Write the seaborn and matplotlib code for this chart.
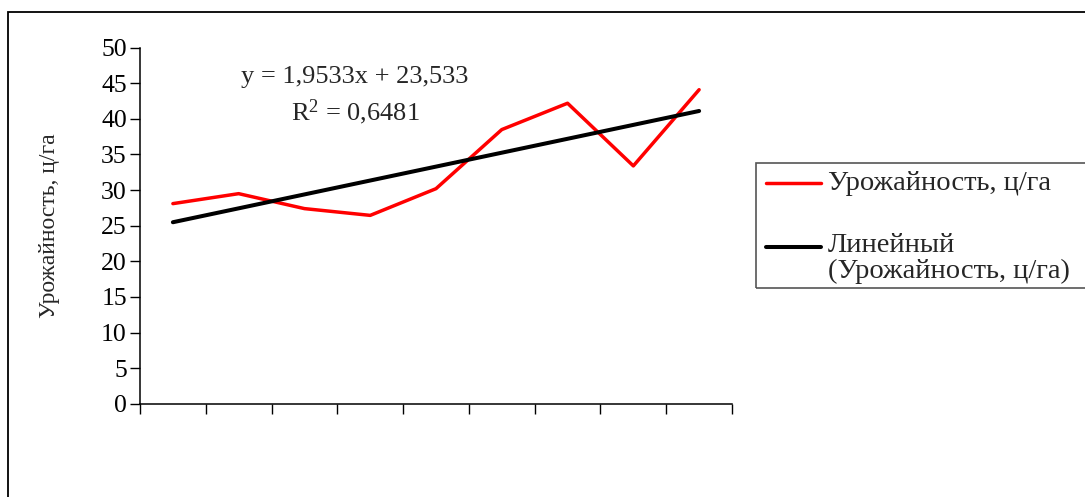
import numpy as np
import pandas as pd
import matplotlib
matplotlib.use("Agg")
import matplotlib.pyplot as plt
from matplotlib.lines import Line2D
from matplotlib.patches import Rectangle
import seaborn as sns

# ---- data ----
periods = [1, 2, 3, 4, 5, 6, 7, 8, 9]
yields = [28.1, 29.5, 27.4, 26.45, 30.2, 38.5, 42.2, 33.4, 44.1]
trend_slope = 1.9533
trend_intercept = 23.533
r_squared = "0,6481"
y_ticks = [0, 5, 10, 15, 20, 25, 30, 35, 40, 45, 50]
series_label = "Урожайность, ц/га"
trend_label = "Линейный\n(Урожайность, ц/га)"
y_label = "Урожайность, ц/га"
equation_text = "y = 1,9533x + 23,533"

sns.set_theme(style="white")
plt.rcParams["font.family"] = ["Liberation Serif", "DejaVu Serif"]
plt.rcParams["mathtext.fontset"] = "custom"
plt.rcParams["mathtext.rm"] = "Liberation Serif"
plt.rcParams["mathtext.it"] = "Liberation Serif:italic"

W, H = 1085, 497
fig = plt.figure(figsize=(W / 100, H / 100), dpi=100)
fig.patch.set_facecolor("white")

ax = fig.add_axes([140 / W, 1 - 403.7 / H, (732 - 140) / W, (403.7 - 47.7) / H])

df = pd.DataFrame({"x": periods, "y": yields})
trend = pd.DataFrame({"x": periods,
                      "y": [trend_slope * p + trend_intercept for p in periods]})
sns.lineplot(data=df, x="x", y="y", ax=ax, color="#ff0000", linewidth=2.5)
sns.lineplot(data=trend, x="x", y="y", ax=ax, color="#000000", linewidth=2.9)

ax.set_xlim(0.5, 9.5)
ax.set_ylim(0, 50)
ax.set_yticks(y_ticks)
ax.set_xticks(np.arange(0.5, 10.0, 1.0))
ax.set_xticklabels([])
ax.set_xlabel("")
ax.set_ylabel(y_label, fontsize=17)
ax.yaxis.set_label_coords(-0.135, 0.5)
ax.tick_params(axis="y", direction="out", length=7, width=1, labelsize=18.5, pad=2.5, left=True, colors="black")
ax.tick_params(axis="x", direction="out", length=7, width=1, bottom=True, colors="black")
for s in ["top", "right"]:
    ax.spines[s].set_visible(False)
for s in ["left", "bottom"]:
    ax.spines[s].set_color("black")
    ax.spines[s].set_linewidth(1.1)
ax.set_facecolor("white")

ax.text(0.363, 0.918, equation_text, transform=ax.transAxes, ha="center", va="center", fontsize=19)
ax.text(0.363, 0.82, "R$^2$ = " + r_squared, transform=ax.transAxes, ha="center", va="center", fontsize=19)

# outer chart frame
fig.add_artist(Rectangle((8 / W, -0.1), 1.2, 1 - 12 / H + 0.1, transform=fig.transFigure,
                         fill=False, edgecolor="black", linewidth=1.3, clip_on=False))

# legend (manual to match layout)
fig.add_artist(Rectangle((756 / W, 1 - 288 / H), 0.5, (288 - 163) / H, transform=fig.transFigure,
                         fill=False, edgecolor="#555555", linewidth=1.2, clip_on=False))
fig.add_artist(Line2D([766 / W, 821 / W], [1 - 183 / H, 1 - 183 / H], transform=fig.transFigure,
                      color="#ff0000", linewidth=2.5))
fig.add_artist(Line2D([766 / W, 821 / W], [1 - 247 / H, 1 - 247 / H], transform=fig.transFigure,
                      color="#000000", linewidth=2.9))
fig.text(828 / W, 1 - 183 / H, series_label, ha="left", va="center", fontsize=20.5)
fig.text(828 / W, 1 - 246 / H, trend_label.split("\n")[0], ha="left", va="center", fontsize=20.5)
fig.text(828 / W, 1 - 271 / H, trend_label.split("\n")[1], ha="left", va="center", fontsize=20.5)

fig.savefig("out.png", dpi=100, facecolor="white")
